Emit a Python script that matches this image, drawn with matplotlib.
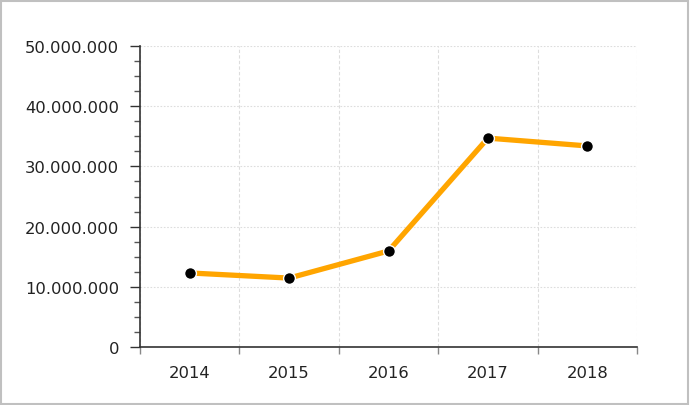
import matplotlib
matplotlib.use("Agg")
import matplotlib.pyplot as plt
from matplotlib.ticker import FuncFormatter, MultipleLocator, FixedLocator
from matplotlib.patches import Rectangle

years = ["2014", "2015", "2016", "2017", "2018"]
values = [12300000, 11450000, 15950000, 34700000, 33400000]

fig = plt.figure(figsize=(6.9, 4.06), dpi=100)
ax = fig.add_axes([140/690, 58/406, 497/690, 301/406])

x = list(range(len(years)))
ax.plot(x, values, color="#FFA500", lw=3.8, solid_capstyle="butt", zorder=3)
ax.plot(x, values, ls="none", marker="o", ms=8.5, mfc="black", mec="white", mew=1.0, zorder=4)

ax.set_xlim(-0.5, len(years) - 0.5)
ax.set_ylim(0, 50000000)

ax.yaxis.set_major_locator(MultipleLocator(10000000))
ax.yaxis.set_minor_locator(MultipleLocator(2500000))
ax.yaxis.set_major_formatter(FuncFormatter(lambda v, p: f"{int(v):,}".replace(",", ".")))

bounds = [i - 0.5 for i in range(len(years) + 1)]
ax.xaxis.set_major_locator(FixedLocator(bounds))
ax.xaxis.set_major_formatter(FuncFormatter(lambda v, p: ""))
ax.xaxis.set_minor_locator(FixedLocator(x))
ax.set_xticklabels(years, minor=True)

ax.tick_params(axis="y", which="major", length=7, width=1, color="#333333", labelsize=11.8, labelcolor="#222222", pad=8)
ax.tick_params(axis="y", which="minor", length=4, width=1, color="#555555")
ax.tick_params(axis="x", which="major", length=5, width=1, color="#888888")
ax.tick_params(axis="x", which="minor", length=0, labelsize=11.8, labelcolor="#222222", pad=13)

for s in ["top", "right"]:
    ax.spines[s].set_visible(False)
ax.spines["left"].set_color("#333333")
ax.spines["bottom"].set_color("#333333")
ax.spines["left"].set_linewidth(1.2)
ax.spines["bottom"].set_linewidth(1.2)

ax.grid(True, axis="y", which="major", color="#dddddd", ls=(0, (1.5, 1.5)), lw=0.8)
ax.grid(True, axis="x", which="major", color="#dddddd", ls=(0, (3, 2)), lw=0.8)
ax.set_axisbelow(True)

fig.patches.append(Rectangle((0.5/690, 1.5/406), 687/690, 403/406, transform=fig.transFigure,
                             fill=False, edgecolor="#c0c0c0", lw=1.5))

fig.savefig("out.png", dpi=100)
